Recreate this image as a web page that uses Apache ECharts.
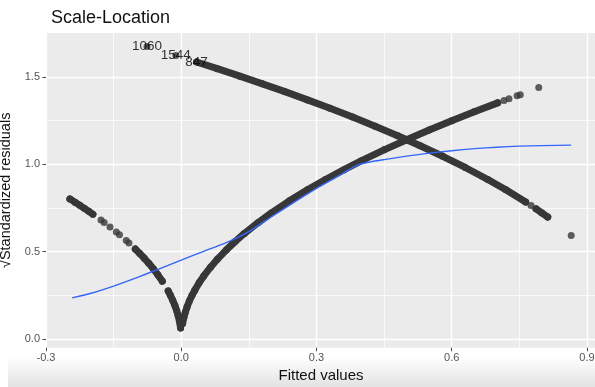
<!DOCTYPE html>
<html>
<head>
<meta charset="utf-8">
<script src="https://cdn.jsdelivr.net/npm/echarts@6/dist/echarts.min.js"></script>
<style>
html,body{margin:0;padding:0;background:#fff;}
#chart{width:595px;height:387px;}
</style>
</head>
<body>
<div id="chart"></div>
<script>
// ---- data ----
const xMajorTicks = [-0.3, 0.0, 0.3, 0.6, 0.9];
const xMinorTicks = [-0.15, 0.15, 0.45, 0.75];
const yMajorTicks = [0.0, 0.5, 1.0, 1.5];
const yMinorTicks = [0.25, 0.75, 1.25];

// lower-left branch (negative fitted values)
const llFit  = [-0.247, -0.235, -0.225, -0.215, -0.205, -0.196];
const llRoot = [0.802, 0.782, 0.765, 0.748, 0.731, 0.714];
const llDotFit  = [-0.178, -0.171, -0.158, -0.144, -0.137, -0.122, -0.116];
const llDotRoot = [0.681, 0.667, 0.641, 0.612, 0.597, 0.564, 0.550];
const ll2Fit  = [-0.102, -0.092, -0.082, -0.072, -0.062, -0.052, -0.042];
const ll2Root = [0.515, 0.489, 0.462, 0.433, 0.402, 0.368, 0.331];
const vLeftFit  = [-0.029, -0.024, -0.019, -0.014, -0.010, -0.007, -0.004, -0.0015];
const vLeftRoot = [0.275, 0.250, 0.222, 0.191, 0.161, 0.135, 0.102, 0.063];

// rising branch
const upFit  = [0.003, 0.006, 0.009, 0.013, 0.018, 0.024, 0.030, 0.040, 0.050, 0.065, 0.080, 0.100, 0.120, 0.140, 0.170, 0.200, 0.240, 0.280, 0.320, 0.360, 0.400, 0.450, 0.500, 0.550, 0.600, 0.650, 0.702];
const upRoot = [0.088, 0.125, 0.153, 0.184, 0.217, 0.250, 0.279, 0.323, 0.361, 0.411, 0.456, 0.510, 0.559, 0.604, 0.665, 0.722, 0.791, 0.854, 0.913, 0.968, 1.021, 1.083, 1.141, 1.197, 1.250, 1.301, 1.352];
const upDotFit  = [0.716, 0.727, 0.745, 0.752, 0.793];
const upDotRoot = [1.365, 1.376, 1.393, 1.399, 1.440];

// falling branch
const downFit  = [0.034, 0.080, 0.130, 0.180, 0.230, 0.280, 0.330, 0.380, 0.430, 0.480, 0.530, 0.580, 0.630, 0.680, 0.720, 0.764];
const downRoot = [1.586, 1.548, 1.505, 1.461, 1.416, 1.369, 1.321, 1.271, 1.218, 1.164, 1.106, 1.046, 0.982, 0.913, 0.854, 0.784];
const downTailFit  = [0.787, 0.800, 0.813];
const downTailRoot = [0.745, 0.722, 0.698];
const downDotFit  = [-0.076, -0.012, 0.776, 0.865];
const downDotRoot = [1.674, 1.623, 0.764, 0.593];

// labelled observations
const labelFit  = [-0.076, -0.012, 0.034];
const labelRoot = [1.674, 1.623, 1.586];
const labelText = ['1060', '1544', '847'];

// smoother
const smoothFit  = [-0.242, -0.2, -0.15, -0.1, -0.05, 0, 0.05, 0.1, 0.15, 0.2, 0.25, 0.3, 0.35, 0.39, 0.42, 0.45, 0.5, 0.55, 0.6, 0.65, 0.7, 0.75, 0.8, 0.865];
const smoothRoot = [0.235, 0.262, 0.303, 0.350, 0.400, 0.452, 0.502, 0.552, 0.615, 0.700, 0.782, 0.862, 0.935, 0.995, 1.014, 1.027, 1.047, 1.064, 1.078, 1.090, 1.098, 1.104, 1.107, 1.110];

// ---- build chart ----
const FONT = '"Liberation Sans", Arial, Helvetica, sans-serif';
const PT = '#373737';
const PSIZE = 7;
const zip = (a, b) => a.map((v, i) => [v, b[i]]);

function segment(fit, root) {
  return {
    type: 'line', data: zip(fit, root), z: 2,
    showSymbol: true, showAllSymbol: true, symbol: 'circle', symbolSize: PSIZE,
    itemStyle: { color: PT }, lineStyle: { color: PT, width: PSIZE, cap: 'round', join: 'round' },
    silent: true, animation: false
  };
}
function dots(fit, root) {
  return {
    type: 'scatter', data: zip(fit, root), z: 2, symbol: 'circle', symbolSize: PSIZE,
    itemStyle: { color: PT }, silent: true, animation: false
  };
}

const chart = echarts.init(document.getElementById('chart'), null, { renderer: 'canvas' });
const commonAxisBase = { type: 'value', axisLine: { show: false, onZero: false } };

chart.setOption({
  animation: false,
  backgroundColor: '#ffffff',
  title: {
    text: 'Scale-Location', left: 46, top: 4,
    textStyle: { fontFamily: FONT, fontSize: 18, fontWeight: 'normal', color: '#111' }
  },
  graphic: [{
    type: 'rect', silent: true, z: -10,
    shape: { x: 8, y: 356, width: 587, height: 31 },
    style: { fill: new echarts.graphic.LinearGradient(0, 0, 0, 1, [
      { offset: 0, color: 'rgba(228,228,228,0)' }, { offset: 1, color: '#e2e2e2' }]) }
  }],
  grid: {
    left: 46, top: 33, width: 550, height: 314.7,
    show: true, backgroundColor: '#EBEBEB', borderWidth: 0,
    outerBoundsMode: 'none'
  },
  xAxis: [
    Object.assign({}, commonAxisBase, {
      min: -0.3, max: 0.92, interval: 0.3, position: 'bottom',
      name: 'Fitted values', nameLocation: 'middle', nameGap: 19,
      nameTextStyle: { fontFamily: FONT, fontSize: 15, color: '#111' },
      axisTick: { show: true, customValues: xMajorTicks, length: 3.5, lineStyle: { color: '#444', width: 1 } },
      axisLabel: { customValues: xMajorTicks, margin: 5, fontFamily: FONT, fontSize: 11, color: '#555',
                   formatter: v => v.toFixed(1) },
      splitLine: { show: true, lineStyle: { color: '#ffffff', width: 1.3 } }
    }),
    Object.assign({}, commonAxisBase, {
      min: -0.3, max: 0.92, interval: 0.15, position: 'top',
      axisTick: { show: false, customValues: xMinorTicks },
      axisLabel: { show: false, customValues: xMinorTicks },
      splitLine: { show: true, lineStyle: { color: '#ffffff', width: 0.7 } }
    })
  ],
  yAxis: [
    Object.assign({}, commonAxisBase, {
      min: -0.05, max: 1.752, position: 'left',
      name: '\u221AStandardized residuals', nameLocation: 'middle', nameGap: 32, nameRotate: 90,
      nameTextStyle: { fontFamily: FONT, fontSize: 14.5, color: '#111' },
      axisTick: { show: true, customValues: yMajorTicks, length: 3.5, lineStyle: { color: '#444', width: 1 } },
      axisLabel: { customValues: yMajorTicks, margin: 6, fontFamily: FONT, fontSize: 11, color: '#555',
                   formatter: v => v.toFixed(1) },
      splitLine: { show: true, lineStyle: { color: '#ffffff', width: 1.3 } }
    }),
    Object.assign({}, commonAxisBase, {
      min: -0.05, max: 1.752, position: 'right',
      axisTick: { show: false, customValues: yMinorTicks },
      axisLabel: { show: false, customValues: yMinorTicks },
      splitLine: { show: true, lineStyle: { color: '#ffffff', width: 0.7 } }
    })
  ],
  series: [
    segment(llFit, llRoot),
    dots(llDotFit, llDotRoot),
    segment(ll2Fit, ll2Root),
    segment(vLeftFit, vLeftRoot),
    segment(upFit, upRoot),
    dots(upDotFit, upDotRoot),
    segment(downFit, downRoot),
    segment(downTailFit, downTailRoot),
    dots(downDotFit, downDotRoot),
    {
      type: 'line', data: zip(smoothFit, smoothRoot), z: 3, showSymbol: false, smooth: 0.2,
      lineStyle: { color: '#3366FF', width: 1.4 }, silent: true, animation: false
    },
    {
      type: 'scatter', z: 4, symbolSize: 0, silent: true, animation: false,
      data: labelFit.map((v, i) => ({ value: [v, labelRoot[i]], name: labelText[i] })),
      itemStyle: { color: 'rgba(0,0,0,0)' },
      label: { show: true, position: 'inside', formatter: p => p.name,
               fontFamily: FONT, fontSize: 13.5, color: '#000' }
    }
  ]
});
</script>
</body>
</html>
